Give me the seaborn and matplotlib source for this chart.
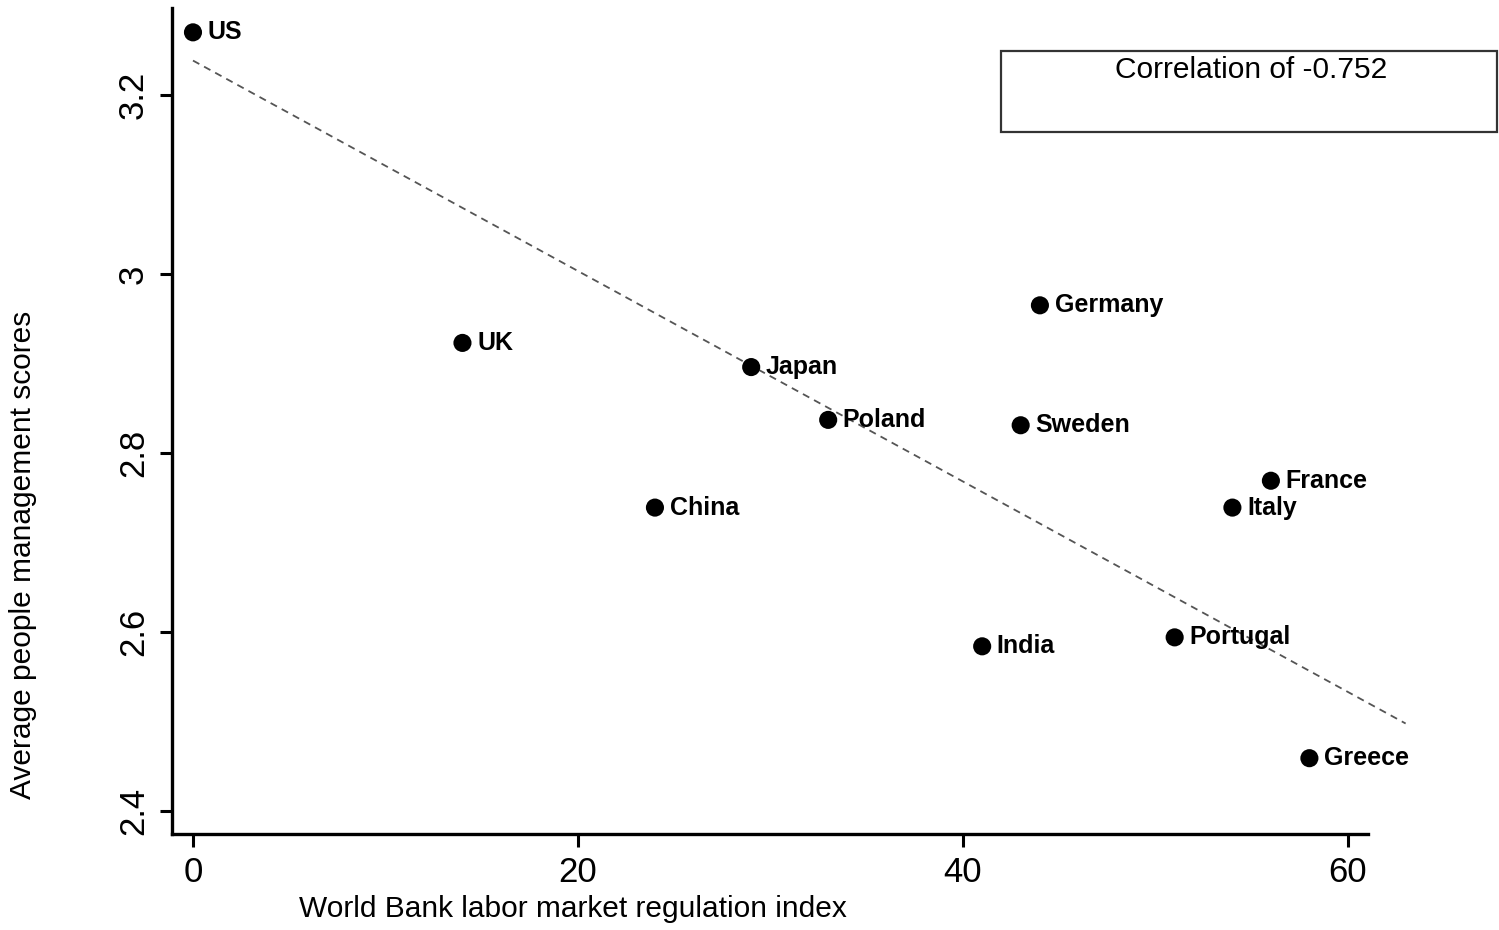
import numpy as np
import pandas as pd
import matplotlib
matplotlib.use("Agg")
import matplotlib.pyplot as plt
import seaborn as sns
from matplotlib.patches import Rectangle

# datos
countries = ["US", "UK", "Japan", "Poland", "Germany", "Sweden", "China",
             "France", "Italy", "India", "Portugal", "Greece"]
regulation = [0, 14, 29, 33, 44, 43, 24, 56, 54, 41, 51, 58]
scores = [3.270, 2.923, 2.896, 2.837, 2.965, 2.831, 2.739,
          2.769, 2.739, 2.584, 2.594, 2.459]
corr_text = "Correlation of -0.752"
yticks = [2.4, 2.6, 2.8, 3.0, 3.2]
ytick_labels = ["2.4", "2.6", "2.8", "3", "3.2"]
xticks = [0, 20, 40, 60]

df = pd.DataFrame({"pais": countries, "x": regulation, "y": scores})

# linea de ajuste (eje mayor reducido)
sx = df["x"].std()
sy = df["y"].std()
r = np.corrcoef(df["x"], df["y"])[0, 1]
slope = np.sign(r) * sy / sx
intercept = df["y"].mean() - slope * df["x"].mean()
x_fit = np.array([0, 63])
fit = pd.DataFrame({"x": x_fit, "y": intercept + slope * x_fit})

sns.set_style("white")
plt.rcParams["font.family"] = ["Liberation Sans", "DejaVu Sans"]
plt.rcParams["text.color"] = "black"
plt.rcParams["axes.labelcolor"] = "black"
plt.rcParams["xtick.color"] = "black"
plt.rcParams["ytick.color"] = "black"

fig = plt.figure(figsize=(14.99, 9.30), dpi=100)
ax = fig.add_axes([172 / 1499, 96 / 930, 1327 / 1499, 826 / 930])

sns.lineplot(data=fit, x="x", y="y", ax=ax, color="#555555",
             linewidth=1.3, linestyle=(0, (4, 3)), zorder=1)
sns.scatterplot(data=df, x="x", y="y", ax=ax, color="black", s=170,
                edgecolor="none", zorder=3)

for _, row in df.iterrows():
    ax.annotate(row["pais"], (row["x"], row["y"]), xytext=(10.5, 0),
                textcoords="offset points", va="center", ha="left",
                fontsize=18, fontweight="bold", color="black")

ax.set_xlim(-1.09, 67.85)
ax.set_ylim(2.3743, 3.2972)
ax.set_xticks(xticks)
ax.set_yticks(yticks)
ax.set_yticklabels(ytick_labels, rotation=90, va="center")
ax.tick_params(axis="both", direction="out", length=9, width=2.2,
               labelsize=25, colors="black", pad=7, left=True, bottom=True)

for s in ["top", "right"]:
    ax.spines[s].set_visible(False)
for s in ["left", "bottom"]:
    ax.spines[s].set_linewidth(2.4)
    ax.spines[s].set_color("black")
ax.spines["bottom"].set_bounds(-1.09, 61.04)

ax.set_xlabel("World Bank labor market regulation index", fontsize=21.5)
ax.set_ylabel("Average people management scores", fontsize=21.5)
ax.xaxis.set_label_coords((573 - 172) / 1327, -0.074)
ax.yaxis.set_label_coords((37 - 172) / 1327, (834 - 555) / 826)

# recuadro de correlacion
fig.patches.append(Rectangle((1001 / 1499, (930 - 132) / 930), 496 / 1499, 81 / 930,
                             transform=fig.transFigure, fill=False,
                             edgecolor="#333333", linewidth=1.6))
fig.text(1251 / 1499, (930 - 56) / 930, corr_text, ha="center", va="top",
         fontsize=21.5)

fig.savefig("out.png", dpi=100)
